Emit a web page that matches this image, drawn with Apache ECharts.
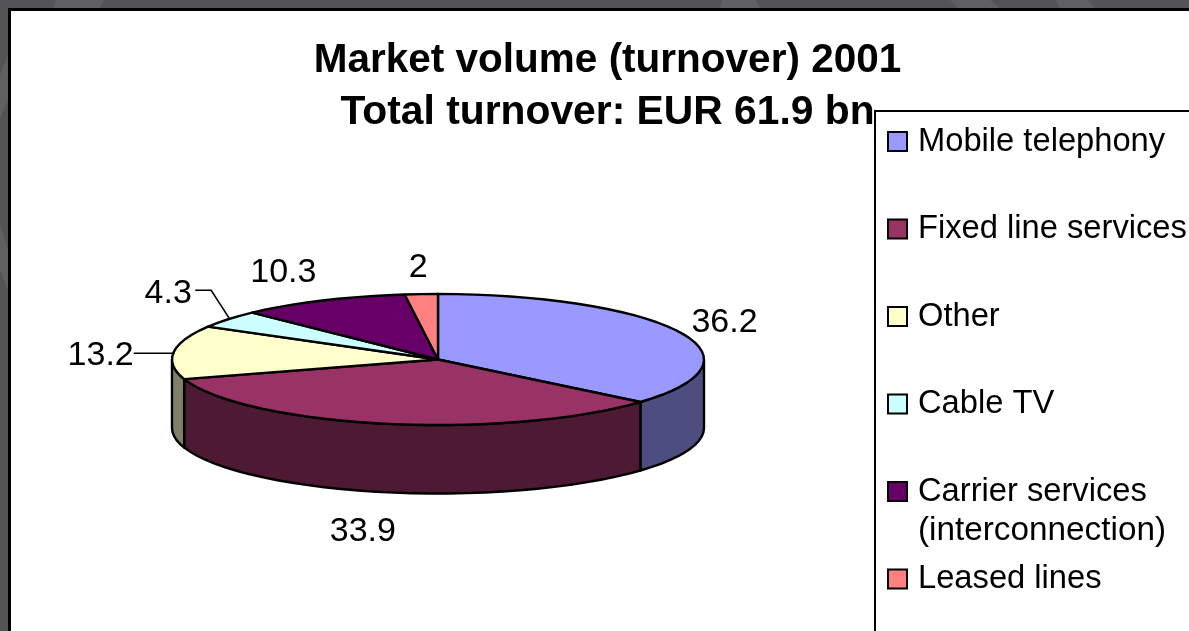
<!DOCTYPE html>
<html><head><meta charset="utf-8">
<style>html,body{margin:0;padding:0;background:#545456;overflow:hidden}#c{width:1189px;height:631px}</style>
<script src="https://cdn.jsdelivr.net/npm/echarts@6/dist/echarts.min.js"></script>
</head><body><div id="c"></div>
<script>
const categories = ['Mobile telephony','Fixed line services','Other','Cable TV','Carrier services (interconnection)','Leased lines'];
const values = [36.2,33.9,13.2,4.3,10.3,2];
const labels = ['36.2','33.9','13.2','4.3','10.3','2'];
const topColors = ['#9999FF','#993366','#FFFFCC','#CCFFFF','#660066','#FF8080'];
const sideColors = ['#4D4D80','#4D1933','#808066','#668080','#330033','#804040'];
const titleLines = ['Market volume (turnover) 2001','Total turnover: EUR 61.9 bn'];
// style: where each label sits relative to the rim point at its slice's mid angle
const labelOffsets = [[45,-9],[-22,108],[-73,3],[-60,-26],[-39,-28],[-3,-27]];
const leaders = [null,null,'h','elbow',null,null];

const cx=438, cy=359.5, rx=266, ry=65.5, depth=68.5;
const total = values.reduce((a,b)=>a+b,0);
const pt=(deg,dy)=>{const r=deg*Math.PI/180;return [cx+rx*Math.sin(r),cy-ry*Math.cos(r)+(dy||0)];};
function arc(a,b,dy){const n=Math.max(2,Math.ceil(Math.abs(b-a)/4));const out=[];for(let i=0;i<=n;i++)out.push(pt(a+(b-a)*i/n,dy));return out;}
const lineStyle={stroke:'#000',lineWidth:2.4,lineJoin:'round'};

function renderSlice(idx){
  return function(params,api){
    const v=api.value(0), start=api.value(1)/total*360, end=start+v/total*360, mid=(start+end)/2;
    const children=[];
    const a=Math.max(start,90), b=Math.min(end,270);
    if(b>a){
      children.push({type:'polygon',z2:1,shape:{points:arc(a,b,0).concat(arc(b,a,depth))},
        style:Object.assign({fill:sideColors[idx]},lineStyle)});
    }
    children.push({type:'polygon',z2:2,shape:{points:[[cx,cy]].concat(arc(start,end,0))},
      style:Object.assign({fill:topColors[idx]},lineStyle)});
    const p=pt(mid), off=labelOffsets[idx], lx=p[0]+off[0], ly=p[1]+off[1];
    children.push({type:'text',z2:3,style:{x:lx,y:ly,text:labels[idx],fill:'#000',align:'center',verticalAlign:'middle',
      font:'34px "Liberation Sans", Arial, sans-serif'}});
    if(leaders[idx]==='h'){
      children.push({type:'polyline',z2:3,shape:{points:[[lx+33,ly-2],[p[0]+1,ly-2]]},style:{stroke:'#000',lineWidth:1.5,fill:null}});
    } else if(leaders[idx]==='elbow'){
      children.push({type:'polyline',z2:3,shape:{points:[[lx+27,ly-3],[lx+43,ly-3],[p[0]+1,p[1]-1]]},style:{stroke:'#000',lineWidth:1.5,fill:null}});
    }
    return {type:'group',children};
  };
}
let cum=0;
const series=categories.map((name,i)=>{
  const s={type:'custom',name,coordinateSystem:'none',silent:true,animation:false,clip:false,
    itemStyle:{color:topColors[i]},data:[[values[i],cum]],renderItem:renderSlice(i),z:3};
  cum+=values[i];return s;
});
const legendFont={fontFamily:'"Liberation Sans", Arial, sans-serif',fontSize:32.7,color:'#000'};
const legendCommon={orient:'vertical',icon:'rect',itemWidth:19,itemHeight:19,padding:0,
  itemStyle:{borderColor:'#000',borderWidth:2},textStyle:Object.assign({padding:[0,0,0,6]},legendFont),selectedMode:false,
  formatter:n=>n.split(' (')[0]};
const patch=(pts)=>({type:'polygon',z:0,silent:true,shape:{points:pts},style:{fill:'#5e6062'}});
const option={
  backgroundColor:'#545456',animation:false,
  legend:[
    Object.assign({},legendCommon,{left:887,top:125,itemGap:54.5,data:categories.slice(0,5)}),
    Object.assign({},legendCommon,{left:887,top:562.5,data:categories.slice(5)})
  ],
  graphic:[
    patch([[56,0],[104,0],[100,8],[53,8]]),
    patch([[722,0],[756,0],[760,8],[720,8]]),
    patch([[950,0],[990,0],[1000,8],[958,8]]),
    patch([[1055,0],[1088,0],[1095,8],[1060,8]]),
    patch([[0,75],[8,55],[8,100],[0,118]]),
    patch([[0,225],[8,250],[8,290],[0,270]]),
    {type:'rect',z:1,shape:{x:9.5,y:9.5,width:1300,height:800},style:{fill:'#fff',stroke:'#000',lineWidth:3}},
    {type:'rect',z:2,shape:{x:875,y:111,width:500,height:700},style:{fill:'#fff',stroke:'#000',lineWidth:2}},
    {type:'text',z:3,style:{x:607.5,y:60.5,text:titleLines[0],align:'center',verticalAlign:'middle',fill:'#000',font:'bold 40.5px "Liberation Sans", Arial, sans-serif'}},
    {type:'text',z:3,style:{x:607.5,y:112.5,text:titleLines[1],align:'center',verticalAlign:'middle',fill:'#000',font:'bold 40.8px "Liberation Sans", Arial, sans-serif'}},
    {type:'text',z:3,style:{x:918,y:531,text:'(interconnection)',align:'left',verticalAlign:'middle',fill:'#000',font:'33.3px "Liberation Sans", Arial, sans-serif'}}
  ],
  series
};
echarts.init(document.getElementById('c'),null,{renderer:'canvas'}).setOption(option);
</script></body></html>
